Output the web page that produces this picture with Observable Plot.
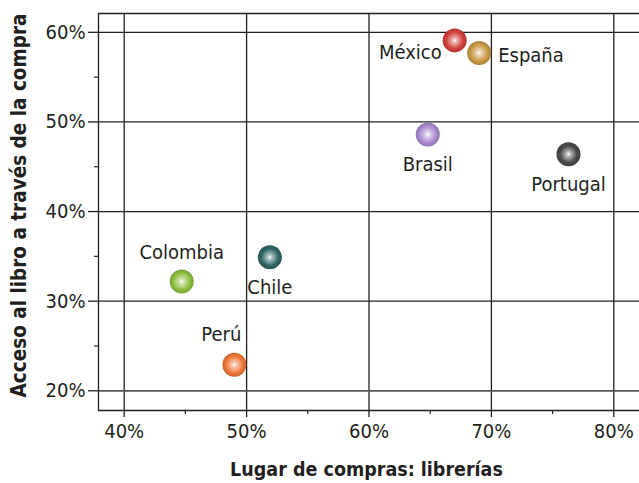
<!DOCTYPE html>
<html>
<head>
<meta charset="utf-8">
<script src="https://cdn.jsdelivr.net/npm/d3@7"></script>
<script src="https://cdn.jsdelivr.net/npm/@observablehq/plot@0.6"></script>
<style>
  html, body { margin: 0; padding: 0; background: #fff; }
  #chart svg { display: block; }
</style>
</head>
<body>
<div id="chart"></div>
<script>
// Data
const countries = ["México", "España", "Brasil", "Portugal", "Colombia", "Chile", "Perú"];
const libreriasPct = [67.0, 69.0, 64.8, 76.3, 44.7, 51.9, 49.0];   // Lugar de compras: librerías (%)
const accesoPct    = [59.1, 57.7, 48.6, 46.4, 32.2, 34.9, 22.9];   // Acceso al libro a través de la compra (%)
const colors = ["#d2403c", "#c99a45", "#a98ad0", "#4a4a4a", "#8dbf3f", "#2f6666", "#f2783a"];
const xTicks = [40, 50, 60, 70, 80];
const yTicks = [20, 30, 40, 50, 60];
const xMinor = [45, 55, 65, 75];
const yMinor = [25, 35, 45, 55];

const data = countries.map((c, i) => ({
  id: "g" + i, country: c, x: libreriasPct[i], y: accesoPct[i], color: colors[i]
}));

const font = "'Liberation Sans Narrow', 'DejaVu Sans Condensed', 'Roboto Condensed', sans-serif";
const ink = "#231f20";

const labelsLeft  = ["México"];
const labelsRight = ["España"];
const labelsBelow = ["Brasil", "Portugal", "Chile"];
const labelsAbove = ["Colombia"];
const labelsAboveLeft = ["Perú"];
const pick = names => data.filter(d => names.includes(d.country));

const chart = Plot.plot({
  width: 639,
  height: 483,
  marginLeft: 98,
  marginRight: 0,
  marginTop: 13,
  marginBottom: 73,
  style: { fontFamily: font, fontSize: "20px", color: ink, background: "#fff" },
  x: { domain: [37.9, 82.1], ticks: xTicks, tickFormat: d => d + "%", label: null },
  y: { domain: [17.8, 62.1], ticks: yTicks, tickFormat: d => d + "%", label: null },
  color: { type: "identity" },
  marks: [
    // grid
    Plot.gridX(xTicks, { stroke: ink, strokeOpacity: 1, strokeWidth: 1.3 }),
    Plot.gridY(yTicks.filter(t => t !== 20), { stroke: ink, strokeOpacity: 1, strokeWidth: 1.3 }),
    Plot.gridY([20], { stroke: "#555", strokeOpacity: 1, strokeWidth: 1.8 }),
    // frame: top, left, bottom
    Plot.ruleY([62.1], { stroke: ink, strokeWidth: 1.3 }),
    Plot.ruleY([17.8], { stroke: ink, strokeWidth: 1.5 }),
    Plot.ruleX([37.9], { stroke: ink, strokeWidth: 1.3 }),
    // axes
    Plot.axisX(xTicks, { tickSize: 7, tickPadding: 6, stroke: ink, strokeWidth: 1.3, fill: ink, fontSize: 20, tickFormat: d => d + "%", label: null }),
    Plot.axisX(xMinor, { tickSize: 4, stroke: ink, strokeWidth: 1.2, text: null, label: null }),
    Plot.axisY(yTicks, { tickSize: 10, tickPadding: 3, stroke: ink, strokeWidth: 1.3, fill: ink, fontSize: 20, tickFormat: d => d + "%", label: null }),
    Plot.axisY(yMinor, { tickSize: 4, stroke: ink, strokeWidth: 1.2, text: null, label: null }),
    // points
    Plot.dot(data, { x: "x", y: "y", r: 12, fill: d => `url(#${d.id})`, stroke: "none" }),
    // labels
    Plot.text(pick(labelsLeft),  { x: "x", y: "y", text: "country", textAnchor: "end",   dx: -13, dy: 12, fill: ink, fontSize: 20 }),
    Plot.text(pick(labelsRight), { x: "x", y: "y", text: "country", textAnchor: "start", dx: 19,  dy: 3,  fill: ink, fontSize: 20 }),
    Plot.text(pick(labelsBelow), { x: "x", y: "y", text: "country", dy: 30, fill: ink, fontSize: 20 }),
    Plot.text(pick(labelsAbove), { x: "x", y: "y", text: "country", dy: -29, fill: ink, fontSize: 20 }),
    Plot.text(pick(labelsAboveLeft), { x: "x", y: "y", text: "country", dx: -13, dy: -30, fill: ink, fontSize: 20 })
  ]
});

// radial gradients for the glossy balls
const svg = d3.select(chart);
const defs = svg.insert("defs", ":first-child");
data.forEach(d => {
  const c = d3.color(d.color);
  const g = defs.append("radialGradient").attr("id", d.id)
    .attr("cx", "50%").attr("cy", "50%").attr("r", "50%")
    .attr("fx", "50%").attr("fy", "50%");
  g.append("stop").attr("offset", "0%").attr("stop-color", "#ffffff");
  g.append("stop").attr("offset", "20%").attr("stop-color", d3.interpolateRgb("#ffffff", d.color)(0.4));
  g.append("stop").attr("offset", "70%").attr("stop-color", d.color);
  g.append("stop").attr("offset", "100%").attr("stop-color", c.darker(0.5).formatHex());
});

// axis titles
const W = 639;
svg.append("text")
  .attr("x", 98 + (W - 98) / 2 - 2).attr("y", 470)
  .attr("text-anchor", "middle").attr("dominant-baseline", "middle")
  .attr("font-family", font).attr("font-weight", "bold").attr("font-size", 19.5)
  .attr("fill", ink)
  .text("Lugar de compras: librerías");
svg.append("text")
  .attr("transform", `translate(20, ${(13 + 410) / 2 - 6}) rotate(-90)`)
  .attr("text-anchor", "middle").attr("dominant-baseline", "middle")
  .attr("font-family", font).attr("font-weight", "bold").attr("font-size", 20.5)
  .attr("fill", ink)
  .text("Acceso al libro a través de la compra");

document.getElementById("chart").appendChild(chart);
</script>
</body>
</html>
